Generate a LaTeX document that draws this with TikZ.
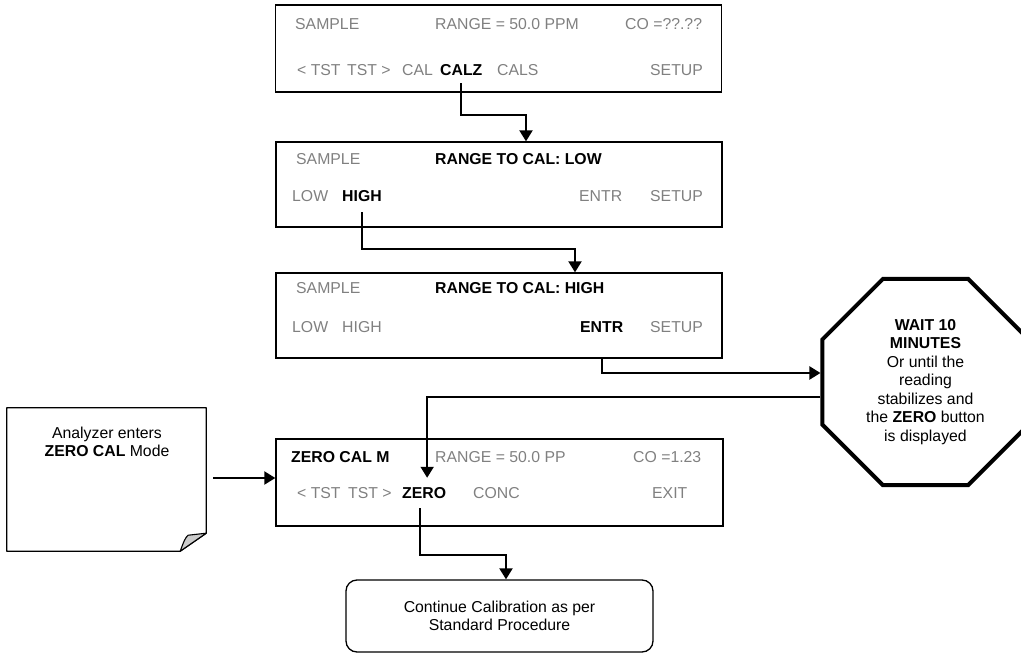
\documentclass[tikz,border=0pt]{standalone}
\usepackage{fontspec}
\setmainfont{Liberation Sans}
\usetikzlibrary{arrows.meta,shapes.geometric,calc}
\begin{document}
\begin{tikzpicture}[x=1pt,y=-1pt,
  every node/.style={font=\fontsize{15.8}{18.5}\selectfont},
  screen/.style={draw,line width=1.3pt,inner sep=0pt,minimum width=446pt},
  dim/.style={text=gray,anchor=base west,inner sep=0pt},
  key/.style={text=black,anchor=base west,inner sep=0pt,font=\fontsize{15.8}{18.5}\selectfont\bfseries},
  arr/.style={line width=2pt,-{Triangle[length=11pt,width=13pt]}},
  line join=miter]
\clip (0,0) rectangle (1021,653);

% ---- screen 1: main sample menu
\node[screen,minimum height=87pt] (box1) at (498.5,48.5) {};
\node[dim] (s1a) at (295,29) {SAMPLE};
\node[dim] (s1b) at (435,29) {RANGE = 50.0 PPM};
\node[dim] (s1c) at (625,29) {CO =??.??};
\node[dim] (s1d) at (297,75) {< TST};
\node[dim] (s1e) at (347,75) {TST >};
\node[dim] (s1f) at (402,75) {CAL};
\node[key] (calz) at (440,75) {CALZ};
\node[dim] (s1g) at (497,75) {CALS};
\node[dim] (s1h) at (650,75) {SETUP};

% ---- screen 2: range selection (LOW)
\node[screen,minimum height=85pt] (box2) at (499,184.5) {};
\node[dim] (s2a) at (296,164) {SAMPLE};
\node[key] (s2b) at (435,164) {RANGE TO CAL: LOW};
\node[dim] (s2c) at (292,201) {LOW};
\node[key] (high) at (342,201) {HIGH};
\node[dim] (s2d) at (579,201) {ENTR};
\node[dim] (s2e) at (650,201) {SETUP};

% ---- screen 3: range selection (HIGH)
\node[screen,minimum height=85pt] (box3) at (499,315.5) {};
\node[dim] (s3a) at (296,293) {SAMPLE};
\node[key] (s3b) at (435,293) {RANGE TO CAL: HIGH};
\node[dim] (s3c) at (292,332) {LOW};
\node[dim] (s3d) at (342,332) {HIGH};
\node[key] (entr) at (580,332) {ENTR};
\node[dim] (s3e) at (650,332) {SETUP};

% ---- screen 4: zero calibration mode
\node[screen,minimum width=447pt,minimum height=87pt] (box4) at (499.5,482.5) {};
\node[key] (s4a) at (291,462) {ZERO CAL M};
\node[dim] (s4b) at (435,462) {RANGE = 50.0 PP};
\node[dim] (s4c) at (633,462) {CO =1.23};
\node[dim] (s4d) at (297,498) {< TST};
\node[dim] (s4e) at (348,498) {TST >};
\node[key] (zero) at (402,498) {ZERO};
\node[dim] (s4f) at (473,498) {CONC};
\node[dim] (s4g) at (652,498) {EXIT};

% ---- wait octagon
\node[regular polygon,regular polygon sides=8,draw,line width=4pt,
      minimum size=223pt,inner sep=0pt,align=center] (wait) at (925.5,382)
  {\textbf{WAIT 10}\\\textbf{MINUTES}\\Or until the\\reading\\stabilizes and\\the \textbf{ZERO} button\\is displayed};

% ---- note with folded corner
\node[inner sep=0pt,minimum width=199pt,minimum height=143pt] (note) at (106.5,479.5) {};
\draw[line width=1.3pt,line join=round]
  (note.north west) -- (note.north east) -- ([yshift=18pt]note.south east)
  -- ([xshift=-26pt]note.south east) -- (note.south west) -- cycle;
\filldraw[fill=black!20,line width=1.1pt,line join=round]
  ([xshift=-26pt]note.south east) .. controls ([xshift=-23pt,yshift=8pt]note.south east)
  and ([xshift=-21pt,yshift=14pt]note.south east) .. ([xshift=-18pt,yshift=16pt]note.south east)
  -- ([yshift=18pt]note.south east) -- cycle;
\node[anchor=north,align=center,inner sep=0pt] (notetext) at (107,426.5)
  {Analyzer enters\\\textbf{ZERO CAL} Mode};

% ---- final step
\node[draw,line width=1.3pt,rounded corners=11pt,minimum width=307pt,minimum height=72pt,
      align=center,inner sep=0pt] (done) at (499.5,616)
  {Continue Calibration as per\\Standard Procedure};

% ---- connectors
\coordinate (c1) at (526,115);
\draw[arr] ([yshift=-8pt]calz.south) |- (c1) -- (c1 |- box2.north);
\coordinate (c2) at (575,249);
\draw[arr] ([yshift=-11pt]high.south) |- (c2) -- (c2 |- box3.north);
\draw[arr] (entr.south |- box3.south) |- ([yshift=9pt]wait.west);
\draw[arr] ([yshift=-15pt]wait.west) -| ([xshift=3pt,yshift=9pt]zero.north);
\draw[arr] ([xshift=7pt,yshift=1.5pt]note.east) -- ([yshift=4.5pt]box4.west);
\coordinate (c3) at (506,555);
\draw[arr] ([xshift=-4pt,yshift=-10pt]zero.south) |- (c3) -- (c3 |- done.north);
\end{tikzpicture}
\end{document}
